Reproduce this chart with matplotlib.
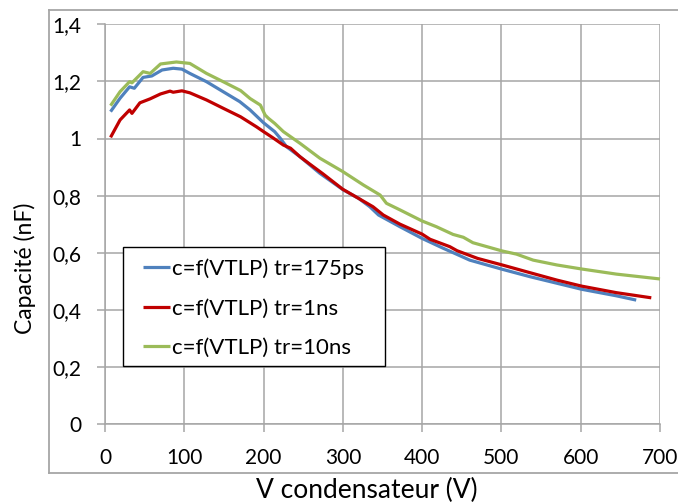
import matplotlib
matplotlib.use("Agg")
import matplotlib.pyplot as plt
from matplotlib.lines import Line2D
from matplotlib.patches import Rectangle
from matplotlib.ticker import FuncFormatter

# ---- data ----
v_175ps = [7, 19, 31, 37, 48, 59, 72, 86, 97, 107, 128, 149, 170, 183, 200, 214, 221, 229,
           246, 271, 300, 320, 334, 345, 372, 400, 427, 444, 460, 501, 536, 570, 601, 645, 670]
c_175ps = [1.094, 1.141, 1.181, 1.176, 1.214, 1.219, 1.240, 1.246, 1.243, 1.228, 1.199, 1.164,
           1.129, 1.100, 1.055, 1.024, 1.001, 0.971, 0.936, 0.878, 0.821, 0.790, 0.761, 0.732,
           0.691, 0.650, 0.615, 0.594, 0.574, 0.542, 0.516, 0.493, 0.472, 0.449, 0.434]

v_1ns = [7, 19, 31, 34, 44, 57, 70, 82, 86, 97, 107, 128, 149, 171, 191, 200, 212, 225, 234,
         246, 257, 275, 300, 320, 338, 351, 372, 400, 410, 435, 444, 470, 501, 536, 570, 601,
         645, 689]
c_1ns = [1.004, 1.065, 1.100, 1.088, 1.125, 1.139, 1.156, 1.166, 1.162, 1.167, 1.160, 1.135,
         1.106, 1.076, 1.041, 1.024, 1.002, 0.977, 0.966, 0.936, 0.913, 0.876, 0.822, 0.790,
         0.761, 0.732, 0.700, 0.665, 0.647, 0.621, 0.607, 0.580, 0.557, 0.530, 0.504, 0.483,
         0.460, 0.442]

v_10ns = [7, 19, 31, 34, 48, 57, 70, 90, 107, 128, 149, 171, 183, 196, 202, 206, 214, 225,
          246, 271, 300, 326, 347, 355, 372, 400, 418, 439, 452, 464, 501, 519, 540, 570, 601,
          645, 700]
c_10ns = [1.115, 1.164, 1.199, 1.195, 1.234, 1.228, 1.261, 1.268, 1.263, 1.228, 1.199, 1.168,
          1.140, 1.117, 1.082, 1.071, 1.053, 1.024, 0.983, 0.931, 0.884, 0.837, 0.802, 0.773,
          0.750, 0.711, 0.691, 0.664, 0.654, 0.635, 0.606, 0.595, 0.574, 0.557, 0.543, 0.525,
          0.508]

labels = ["c=f(VTLP) tr=175ps", "c=f(VTLP) tr=1ns", "c=f(VTLP) tr=10ns"]
colors = ["#4F81BD", "#C00000", "#9BBB59"]
x_ticks = [0, 100, 200, 300, 400, 500, 600, 700]
y_ticks = [0, 0.2, 0.4, 0.6, 0.8, 1.0, 1.2, 1.4]

plt.rcParams['font.family'] = ['Lato', 'DejaVu Sans']
grey = "#a6a6a6"

fig = plt.figure(figsize=(6.78, 5.04), dpi=100)
ax = fig.add_axes([105 / 678, 1 - 424 / 504, 555 / 678, (424 - 24.3) / 504])

# pixel -> axes-fraction helpers for layout only
def ax_x(px):
    return (px - 105) / 555

def ax_y(py):
    return (424 - py) / 399.7

for v, c, lab, col in zip([v_175ps, v_1ns, v_10ns], [c_175ps, c_1ns, c_10ns], labels, colors):
    ax.plot(v, c, color=col, lw=2.3, label=lab, solid_capstyle='butt', clip_on=False)

ax.set_xlim(0, 700)
ax.set_ylim(0, 1.4)
ax.set_xticks(x_ticks)
ax.set_yticks(y_ticks)
ax.yaxis.set_major_formatter(FuncFormatter(lambda y, p: ("%g" % round(y, 1)).replace(".", ",")))
ax.grid(True, color=grey, lw=1.1)
ax.set_axisbelow(True)
for s in ["top", "right"]:
    ax.spines[s].set_visible(False)
for s in ["left", "bottom"]:
    ax.spines[s].set_color(grey)
    ax.spines[s].set_linewidth(1.1)
ax.tick_params(axis='both', direction='out', length=6, width=1.1, color=grey,
               labelsize=15, labelcolor='black')
ax.tick_params(axis='y', pad=11)
ax.tick_params(axis='x', pad=11)

ax.set_xlabel("V condensateur (V)", fontsize=19)
ax.xaxis.set_label_coords(ax_x(367), ax_y(490))
ax.xaxis.label.set_va('center')
ax.set_ylabel("Capacité (nF)", fontsize=16.5)
ax.yaxis.set_label_coords(ax_x(25), ax_y(268))
ax.yaxis.label.set_va('center')

# legend box (frame drawn separately to match padding)
frame = Rectangle((ax_x(122.7), ax_y(366)), ax_x(385) - ax_x(122.7), ax_y(247) - ax_y(366),
                  transform=ax.transAxes, facecolor='white', edgecolor='black', lw=1.0,
                  zorder=4.5, clip_on=False)
ax.add_patch(frame)
leg = ax.legend(loc='upper left', bbox_to_anchor=(ax_x(143.3), ax_y(258.5)),
                borderaxespad=0, borderpad=0, fontsize=16, frameon=False,
                handlelength=1.2, handletextpad=0.1, labelspacing=0.88)
leg.set_zorder(5)
for line in leg.get_lines():
    line.set_linewidth(2.3)

# outer chart-area border
L = 49 / 678
T = 1 - 9.5 / 504
B = 1 - 472.7 / 504
for xs, ys in [([L, 1.0], [T, T]), ([L, L], [B, T]), ([L, 1.0], [B, B])]:
    fig.add_artist(Line2D(xs, ys, color=grey, lw=1.3, transform=fig.transFigure))

fig.savefig("out.png", dpi=100)
